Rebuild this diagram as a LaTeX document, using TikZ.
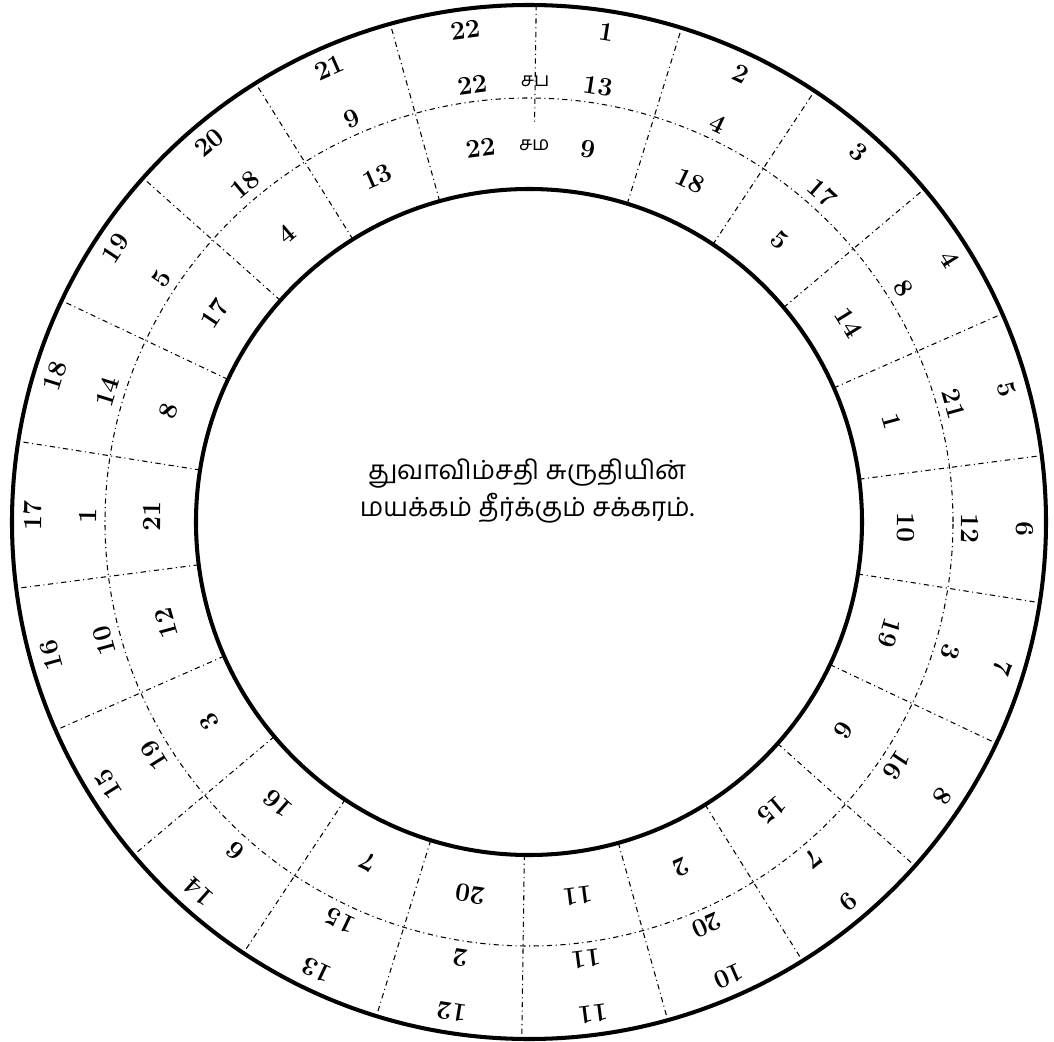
\documentclass[tikz,border=0pt]{standalone}
\usepackage{fontspec}
\newfontfamily\tamilfont[Script=Tamil]{Hind Madurai}
\begin{document}
\begin{tikzpicture}[
    x=0.02cm, y=0.02cm,
    rim/.style={line width=2.3pt},
    ring/.style={line width=0.6pt, dash dot},
    spoke/.style={line width=0.6pt, dash dot},
    num/.style={font=\fontsize{15}{18}\selectfont\bfseries, inner sep=0pt},
    tag/.style={font=\tamilfont\fontsize{11}{13}\selectfont, inner sep=0pt},
    title/.style={font=\tamilfont\fontsize{15}{20.5}\selectfont, align=center}
]
    \useasboundingbox (-529,-519) rectangle (525,522);
    \def\tilt{-0.8}

    % Circles
    \draw[rim] (0,0) circle[radius=517];
    \draw[ring] (0,0) circle[radius=424];
    \draw[rim] (0,0) circle[radius=333];

    % Spokes between the sectors
    \draw[spoke] (90+\tilt:517) -- (90+\tilt:400);
    \foreach \j in {1,...,21} {
        \draw[spoke] (90+\tilt-\j*360/22:333) -- (90+\tilt-\j*360/22:517);
    }

    % Numbers: outer, middle (x13), inner (x9)
    \foreach \k in {1,...,22} {
        \pgfmathsetmacro\ang{90+\tilt-(\k-0.5)*360/22}
        \pgfmathtruncatemacro\pa{mod(13*\k-1,22)+1}
        \pgfmathtruncatemacro\ma{mod(9*\k-1,22)+1}
        \node[num, rotate=\ang-90] (o\k) at (\ang:496) {\k};
        \node[num, rotate=\ang-90] (m\k) at (\ang:441) {\pa};
        \node[num, rotate=\ang-90] (i\k) at (\ang:377) {\ma};
    }

    % Tamil tags at the top
    \node[tag] (sapa) at (90+\tilt:441) {சப};
    \node[tag] (sama) at (90+\tilt:377) {சம};

    % Centre title
    \node[title] (name) at (-2,31) {துவாவிம்சதி சுருதியின்\\மயக்கம் தீர்க்கும் சக்கரம்.};
\end{tikzpicture}
\end{document}
